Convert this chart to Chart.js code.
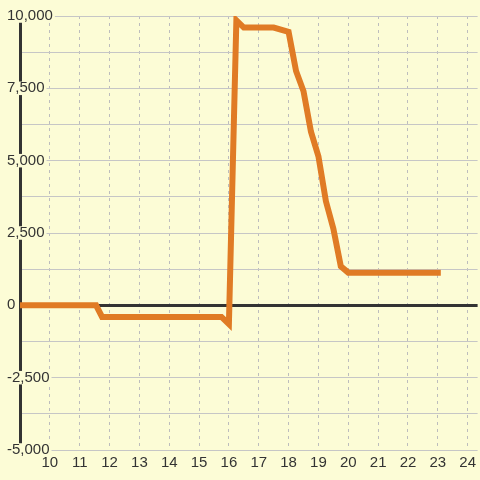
<!DOCTYPE html>
<html>
<head>
<meta charset="utf-8">
<script src="https://cdn.jsdelivr.net/npm/chart.js@4/dist/chart.umd.min.js"></script>
<style>
  html, body { margin: 0; padding: 0; background: #fcfcd6; }
  #wrap { width: 480px; height: 480px; position: relative; }
</style>
</head>
<body>
<div id="wrap"><canvas id="c"></canvas></div>
<script>
// data
const xValues = [9, 11.55, 11.75, 15.75, 16.0, 16.25, 16.5, 17.5, 18.0, 18.25, 18.5, 18.75, 19.0, 19.25, 19.5, 19.75, 20.0, 23.0]
const yValues = [0, 0, -400, -400, -650, 9850, 9600, 9600, 9450, 8100, 7400, 6000, 5150, 3600, 2650, 1350, 1130, 1130]

const xTicks = [10, 11, 12, 13, 14, 15, 16, 17, 18, 19, 20, 21, 22, 23, 24]
const yTicks = [-5000, -3750, -2500, -1250, 0, 1250, 2500, 3750, 5000, 6250, 7500, 8750, 10000]
const yLabelStep = 2500

const bg = '#fcfcd6'
const lineColor = '#e07b25'
const ink = '#333333'

const isLabelled = v => v % yLabelStep === 0

new Chart(document.getElementById('c'), {
  type: 'line',
  data: {
    datasets: [{
      data: xValues.map((x, i) => ({ x, y: yValues[i] })),
      borderColor: lineColor,
      borderWidth: 6,
      borderCapStyle: 'square',
      pointRadius: 0,
      tension: 0
    }]
  },
  options: {
    responsive: true,
    maintainAspectRatio: false,
    animation: false,
    layout: { padding: { left: 20, top: 16, right: 0, bottom: 4 } },
    plugins: { legend: { display: false }, tooltip: { enabled: false } },
    scales: {
      x: {
        type: 'linear',
        min: 9,
        max: 24 + 1 / 3,
        afterBuildTicks: s => { s.ticks = xTicks.map(v => ({ value: v })) },
        grid: { color: '#bdbdbd', lineWidth: 1, drawTicks: false },
        border: { display: false, dash: [3, 4] },
        ticks: {
          padding: 4,
          color: ink,
          font: { family: 'Liberation Sans', size: 15 },
          maxRotation: 0,
          autoSkip: false
        }
      },
      y: {
        type: 'linear',
        min: -5000,
        max: 10000,
        afterBuildTicks: s => { s.ticks = yTicks.map(v => ({ value: v })) },
        afterFit: s => { s.width = 0 },
        grid: {
          drawTicks: false,
          color: ctx => ctx.tick && ctx.tick.value === 0 ? ink : '#c6c6c6',
          lineWidth: ctx => ctx.tick && ctx.tick.value === 0 ? 3 : 1
        },
        border: { display: true, color: ink, width: 3 },
        ticks: {
          mirror: true,
          padding: -13,
          color: ink,
          font: { family: 'Liberation Sans', size: 15, lineHeight: 0.9 },
          showLabelBackdrop: ctx => !!(ctx.tick && isLabelled(ctx.tick.value)),
          backdropColor: bg,
          backdropPadding: { top: 0, bottom: 0, left: 2, right: 2 },
          callback: v => isLabelled(v) ? v.toLocaleString('en-US') : ''
        }
      }
    }
  }
})
</script>
</body>
</html>
